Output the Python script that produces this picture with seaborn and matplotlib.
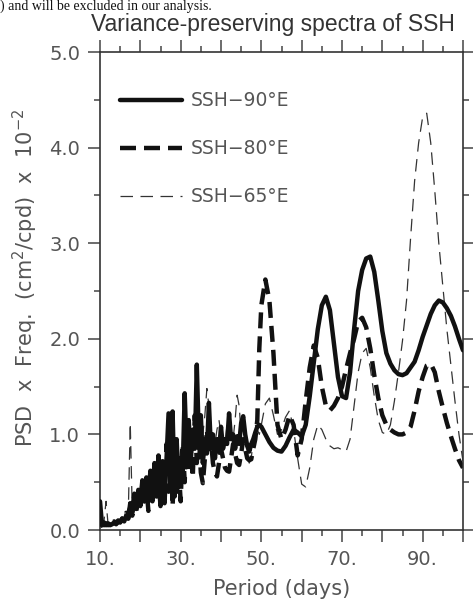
import numpy as np
import pandas as pd
import matplotlib
matplotlib.use("Agg")
import matplotlib.pyplot as plt
import seaborn as sns

# ---------------- data ----------------
# Period grid in days: dense (0.5 d) in the noisy short-period band, 1 d beyond
period_short = np.arange(10.0, 50.0, 0.5)
period_long = np.arange(50.0, 101.0, 1.0)

ssh90_short = [
    0.30, 0.05, 0.08, 0.05, 0.07, 0.05, 0.06, 0.08, 0.06, 0.09,
    0.08, 0.12, 0.09, 0.15, 0.12, 0.28, 0.18, 0.38, 0.22, 0.42,
    0.28, 0.52, 0.30, 0.55, 0.35, 0.62, 0.32, 0.70, 0.40, 0.78,
    0.30, 0.62, 0.28, 0.75, 1.22, 0.45, 1.24, 0.35, 0.95, 0.45,
    0.75, 0.62, 1.43, 0.78, 1.15, 0.72, 1.05, 0.85, 1.73, 0.95,
    1.20, 0.70, 0.95, 0.80, 1.33, 0.85, 1.00, 0.75, 0.95, 0.82,
    1.08, 0.85, 0.95, 0.90, 1.22, 0.95, 1.00, 0.85, 0.98, 0.90,
    1.12, 1.19, 1.00, 0.88, 0.82, 0.90, 0.95, 1.02, 1.08, 1.10,
]
ssh90_long = [
    1.08, 1.00, 0.92, 0.86, 0.83, 0.82, 0.88, 0.97, 1.05, 1.02,
    0.98, 1.10, 1.40, 1.75, 2.10, 2.35, 2.44, 2.30, 1.95, 1.60,
    1.40, 1.38, 1.65, 2.10, 2.50, 2.72, 2.84, 2.86, 2.70, 2.40,
    2.08, 1.85, 1.74, 1.67, 1.63, 1.62, 1.64, 1.70, 1.76, 1.88,
    2.02, 2.14, 2.26, 2.35, 2.40, 2.38, 2.32, 2.24, 2.13, 2.00,
    1.88,
]

ssh80_short = [
    0.03, 0.08, 0.05, 0.07, 0.05, 0.08, 0.06, 0.09, 0.07, 0.10,
    0.08, 0.12, 0.10, 0.18, 0.12, 0.30, 0.15, 0.35, 0.20, 0.40,
    0.25, 0.48, 0.30, 0.45, 0.20, 0.55, 0.30, 0.62, 0.35, 0.55,
    0.25, 0.72, 0.30, 0.90, 0.40, 1.15, 0.25, 0.80, 0.35, 0.65,
    0.30, 0.90, 0.50, 1.10, 0.60, 0.95, 0.55, 1.20, 0.70, 1.00,
    0.60, 0.49, 0.75, 1.05, 0.80, 0.95, 0.70, 0.60, 0.56, 0.70,
    0.85, 0.75, 0.65, 0.62, 0.61, 0.75, 0.90, 0.80, 0.70, 0.68,
    0.80, 0.95, 0.85, 0.75, 0.73, 0.74, 0.85, 0.95, 1.15, 1.90,
]
ssh80_long = [
    2.35, 2.62, 2.40, 1.85, 1.10, 0.95, 1.05, 1.20, 1.10, 0.78,
    0.95, 1.35, 1.70, 1.93, 1.80, 1.50, 1.30, 1.25, 1.30, 1.38,
    1.50, 1.68, 1.85, 2.00, 2.18, 2.22, 2.12, 1.90, 1.62, 1.38,
    1.20, 1.10, 1.05, 1.02, 1.00, 1.00, 1.02, 1.08, 1.25, 1.45,
    1.60, 1.72, 1.74, 1.65, 1.45, 1.28, 1.12, 0.98, 0.85, 0.73,
    0.65,
]

ssh65_short = [
    0.08, 0.05, 0.10, 0.30, 0.06, 0.05, 0.06, 0.05, 0.07, 0.06,
    0.08, 0.10, 0.12, 0.20, 0.15, 1.12, 0.20, 0.30, 0.25, 0.35,
    0.30, 0.40, 0.35, 0.50, 0.40, 0.45, 0.60, 0.50, 0.72, 0.50,
    0.60, 0.45, 0.70, 0.60, 0.90, 0.70, 0.80, 0.55, 0.70, 0.60,
    0.85, 0.75, 1.00, 0.90, 0.85, 0.70, 0.90, 1.10, 1.00, 0.90,
    0.80, 1.00, 1.20, 1.48, 1.30, 1.00, 0.85, 0.90, 1.05, 1.15,
    1.00, 0.85, 0.90, 1.10, 1.15, 1.00, 0.95, 1.15, 1.41, 1.30,
    1.00, 0.85, 0.90, 0.85, 0.70, 0.75, 0.95, 1.10, 1.05, 1.00,
]
ssh65_long = [
    1.10, 1.32, 1.38, 1.20, 1.00, 1.05, 1.18, 1.25, 1.05, 0.75,
    0.48, 0.45, 0.65, 0.95, 1.10, 1.05, 0.95, 0.88, 0.85, 0.86,
    0.84, 0.82, 0.95, 1.30, 1.65, 1.85, 1.90, 1.70, 1.40, 1.15,
    1.02, 1.00, 1.10, 1.35, 1.65, 1.98, 2.40, 3.05, 3.65, 4.05,
    4.32, 4.36, 4.05, 3.55, 3.00, 2.55, 2.10, 1.72, 1.35, 1.00,
    0.72,
]

series_labels = ["SSH\u221290\u00b0E", "SSH\u221280\u00b0E", "SSH\u221265\u00b0E"]
x_tick_values = [10, 20, 30, 40, 50, 60, 70, 80, 90, 100]
x_tick_labels = ["10.", "", "30.", "", "50.", "", "70.", "", "90.", ""]
y_tick_values = [0, 1, 2, 3, 4, 5]
y_tick_labels = ["0.0", "1.0", "2.0", "3.0", "4.0", "5.0"]

period = np.concatenate([period_short, period_long])
df = pd.DataFrame({
    "period": period,
    "ssh90": ssh90_short + ssh90_long,
    "ssh80": ssh80_short + ssh80_long,
    "ssh65": ssh65_short + ssh65_long,
})

# ---------------- figure ----------------
sns.set_style("ticks")
plt.rcParams["font.family"] = ["DejaVu Sans"]

W, H = 473, 604
fig = plt.figure(figsize=(W / 100, H / 100), dpi=100)
fig.patch.set_facecolor("white")
ax = fig.add_axes([100 / W, 1 - 530 / H, 363 / W, 478 / H])
ax.set_facecolor("white")

sns.lineplot(data=df, x="period", y="ssh90", ax=ax, color="#111111",
             lw=3.2, label=series_labels[0], zorder=3)
sns.lineplot(data=df, x="period", y="ssh80", ax=ax, color="#111111",
             lw=3.2, linestyle=(0, (3.6, 1.8)), label=series_labels[1], zorder=2)
sns.lineplot(data=df, x="period", y="ssh65", ax=ax, color="#333333",
             lw=0.9, linestyle=(0, (10, 6)), label=series_labels[2], zorder=1)

ax.set_xlim(10, 100)
ax.set_ylim(0, 5)
ax.set_xticks(x_tick_values)
ax.set_xticklabels(x_tick_labels)
ax.set_xticks([15, 25, 35, 45, 55, 65, 75, 85, 95], minor=True)
ax.set_yticks(y_tick_values)
ax.set_yticklabels(y_tick_labels)
ax.set_yticks([0.5, 1.5, 2.5, 3.5, 4.5], minor=True)

ax.set_xlabel("Period (days)", fontsize=15, color="#555555", labelpad=7)
ax.set_ylabel("")

for s in ax.spines.values():
    s.set_visible(True)
    s.set_color("#333333")
    s.set_linewidth(1.2)

ax.tick_params(which="both", direction="out", top=True, right=True,
               labeltop=False, labelright=False, color="#444444", width=1.1)
ax.tick_params(which="major", length=8.4, labelsize=14, labelcolor="#555555", pad=6)
ax.tick_params(which="minor", length=4.5)

leg = ax.legend(loc="upper left", bbox_to_anchor=(0.055, 0.918), frameon=False,
                borderaxespad=0, borderpad=0, handlelength=3.3, handletextpad=0.45,
                labelspacing=1.55, fontsize=13.5, labelcolor="#555555")

fig.text(25 / W, 1 - 278 / H, "PSD  x  Freq.  (cm$^2$/cpd)  x  10$^{-2}$",
         rotation=90, ha="center", va="center", fontsize=15, color="#555555")

fig.text(273 / W, 1 - 24 / H, "Variance-preserving spectra of SSH",
         ha="center", va="center", fontsize=16.5, color="#333333",
         family=["Liberation Sans", "DejaVu Sans"])

fig.text(0 / W, 1 - 9.5 / H, ") and will be excluded in our analysis.",
         ha="left", va="baseline", fontsize=10, color="#111111",
         family=["Liberation Serif", "DejaVu Serif"])

fig.savefig("out.png", dpi=100, facecolor="white")
